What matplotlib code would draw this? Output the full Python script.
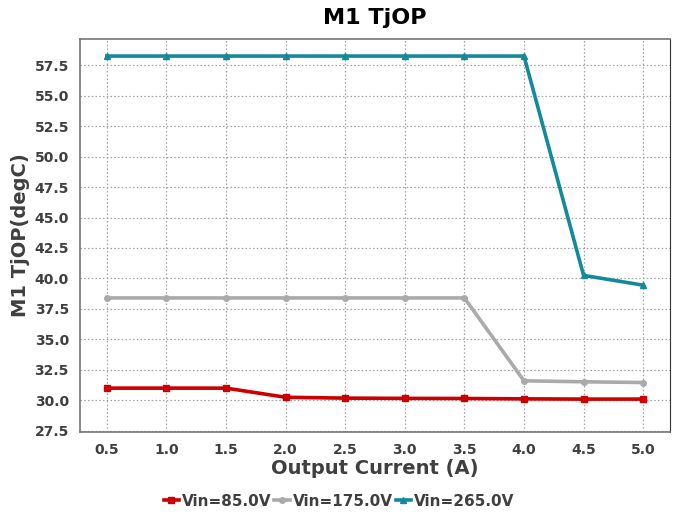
import matplotlib
matplotlib.use("Agg")
import matplotlib.pyplot as plt

# output current sweep (A)
current = [0.5, 1.0, 1.5, 2.0, 2.5, 3.0, 3.5, 4.0, 4.5, 5.0]

# M1 junction temperature at operating point (degC) per input voltage
tj_85 = [31.0, 31.0, 31.0, 30.25, 30.18, 30.16, 30.15, 30.12, 30.1, 30.1]
tj_175 = [38.4, 38.4, 38.4, 38.4, 38.4, 38.4, 38.4, 31.6, 31.52, 31.46]
tj_265 = [58.25, 58.25, 58.25, 58.25, 58.25, 58.25, 58.25, 58.25, 40.25, 39.45]

series_labels = ["Vin=85.0V", "Vin=175.0V", "Vin=265.0V"]
y_ticks = [27.5, 30.0, 32.5, 35.0, 37.5, 40.0, 42.5, 45.0, 47.5,
           50.0, 52.5, 55.0, 57.5]

text_col = "#3f3f3f"

fig = plt.figure(figsize=(6.78, 5.15), dpi=100)
ax = fig.add_axes([80 / 678, 1 - 432 / 515, 590 / 678, 393 / 515])

ax.plot(current, tj_85, color="#cc0000", lw=2.6, marker="s", ms=4,
        label=series_labels[0], zorder=4)
ax.plot(current, tj_175, color="#aaaaaa", lw=2.6, marker="o", ms=4,
        label=series_labels[1], zorder=3)
ax.plot(current, tj_265, color="#138a9a", lw=2.6, marker="^", ms=4,
        label=series_labels[2], zorder=3)

ax.set_xlim(0.275, 5.225)
ax.set_ylim(27.4, 59.65)
ax.set_xticks(current)
ax.set_xticklabels([f"{c:.1f}" for c in current])
ax.set_yticks(y_ticks)
ax.set_yticklabels([f"{v:.1f}" for v in y_ticks])
ax.tick_params(length=0, labelsize=10, labelcolor=text_col, pad=8)
for lab in ax.get_xticklabels() + ax.get_yticklabels():
    lab.set_fontweight("bold")

ax.grid(True, linestyle=(0, (1.2, 1.8)), color="#a0a0a0", lw=0.9)
ax.set_axisbelow(True)
for side in ["left", "bottom", "top"]:
    ax.spines[side].set_color("#777777")
    ax.spines[side].set_linewidth(1.2)
ax.spines["right"].set_color("#333333")

ax.set_title("M1 TjOP", fontsize=16, fontweight="bold", color="black", pad=11)
ax.set_xlabel("Output Current (A)", fontsize=14, fontweight="bold",
              color=text_col, labelpad=1)
ax.set_ylabel("M1 TjOP(degC)", fontsize=14, fontweight="bold",
              color=text_col, labelpad=3)

leg = fig.legend(loc="center", bbox_to_anchor=(0.5, 1 - 501 / 515), ncol=3,
                 frameon=False, handlelength=1.0, handletextpad=0.2,
                 columnspacing=0.2, markerscale=1.0,
                 prop={"weight": "bold", "size": 11})
for t in leg.get_texts():
    t.set_color(text_col)

fig.savefig("out.png", dpi=100)
